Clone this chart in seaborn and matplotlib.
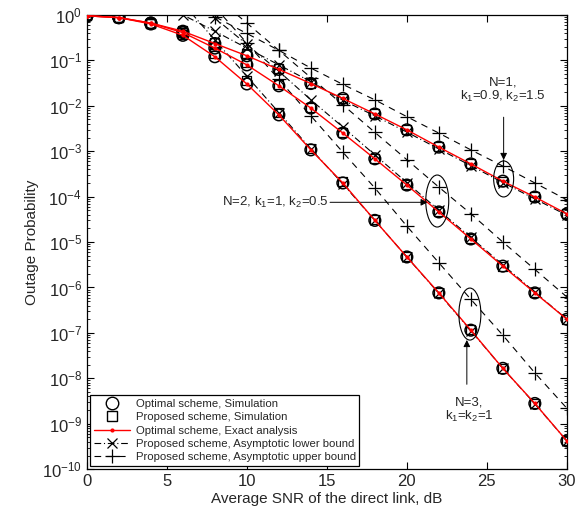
import numpy as np
import pandas as pd
import matplotlib
matplotlib.use("Agg")
import matplotlib.pyplot as plt
import seaborn as sns
from matplotlib.lines import Line2D
from matplotlib.patches import Ellipse
from matplotlib.transforms import ScaledTranslation
from matplotlib.ticker import LogLocator, NullFormatter, FixedLocator

# ---------------- data ----------------
snr = [0, 2, 4, 6, 8, 10, 12, 14, 16, 18, 20, 22, 24, 26, 28, 30]

exact_n1 = [0.955, 0.871, 0.661, 0.437, 0.234, 0.126, 0.0631, 0.0309, 0.0145,
            6.6e-3, 2.95e-3, 1.23e-3, 5.25e-4, 2.19e-4, 9.8e-5, 4.17e-5]
exact_n2 = [0.955, 0.871, 0.661, 0.407, 0.186, 0.0794, 0.0275, 8.9e-3, 2.5e-3,
            6.8e-4, 1.8e-4, 4.6e-5, 1.17e-5, 2.95e-6, 7.6e-7, 2.0e-7]
exact_n3 = [0.955, 0.871, 0.631, 0.355, 0.120, 0.0302, 6.3e-3, 1.07e-3, 2.0e-4,
            3.0e-5, 4.7e-6, 7.6e-7, 1.15e-7, 1.66e-8, 2.8e-9, 4.2e-10]

opt_sim_n1 = [0.955, 0.871, 0.661, 0.437, 0.234, 0.126, 0.0631, 0.0309, 0.0145,
              6.6e-3, 2.95e-3, 1.23e-3, 5.25e-4, 2.19e-4, 9.8e-5, 4.17e-5]
opt_sim_n2 = [0.955, 0.871, 0.661, 0.407, 0.186, 0.0794, 0.0275, 8.9e-3, 2.5e-3,
              6.8e-4, 1.8e-4, 4.6e-5, 1.17e-5, 2.95e-6, 7.6e-7, 2.0e-7]
opt_sim_n3 = [0.955, 0.871, 0.631, 0.355, 0.120, 0.0302, 6.3e-3, 1.07e-3, 2.0e-4,
              3.0e-5, 4.7e-6, 7.6e-7, 1.15e-7, 1.66e-8, 2.8e-9, 4.2e-10]

prop_sim_n1 = [0.955, 0.871, 0.661, 0.45, 0.25, 0.14, 0.066, 0.0315, 0.0147,
               6.7e-3, 2.97e-3, 1.24e-3, 5.3e-4, 2.2e-4, 9.9e-5, 4.2e-5]
prop_sim_n2 = [0.955, 0.871, 0.661, 0.42, 0.20, 0.088, 0.030, 9.3e-3, 2.6e-3,
               6.9e-4, 1.82e-4, 4.65e-5, 1.18e-5, 2.97e-6, 7.7e-7, 2.0e-7]
prop_sim_n3 = [0.955, 0.871, 0.65, 0.37, 0.14, 0.036, 7.0e-3, 1.15e-3, 2.1e-4,
               3.1e-5, 4.8e-6, 7.7e-7, 1.16e-7, 1.67e-8, 2.8e-9, 4.2e-10]

snr_low_n1 = [4, 6, 8, 10, 12, 14, 16, 18, 20, 22, 24, 26, 28, 30]
low_n1 = [2.3, 1.0, 0.437, 0.186, 0.0794, 0.0339, 0.0132, 6.0e-3, 2.63e-3,
          1.12e-3, 4.8e-4, 2.04e-4, 8.9e-5, 3.9e-5]
snr_low_n2 = [6, 8, 10, 12, 14, 16, 18, 20, 22, 24, 26, 28, 30]
low_n2 = [3.5, 0.85, 0.224, 0.0575, 0.0135, 3.4e-3, 8.3e-4, 2.04e-4, 5.0e-5,
          1.26e-5, 3.16e-6, 7.9e-7, 2.0e-7]
snr_low_n3 = [6, 8, 10, 12, 14, 16, 18, 20, 22, 24, 26, 28, 30]
low_n3 = [1.8, 0.28, 0.0447, 7.1e-3, 1.12e-3, 1.9e-4, 3.0e-5, 4.7e-6, 7.4e-7,
          1.12e-7, 1.66e-8, 2.75e-9, 4.2e-10]

snr_up_n1 = [6, 8, 10, 12, 14, 16, 18, 20, 22, 24, 26, 28, 30]
up_n1 = [2.1, 0.91, 0.39, 0.166, 0.0676, 0.0295, 0.0135, 5.75e-3, 2.5e-3,
         1.07e-3, 4.7e-4, 2.0e-4, 8.5e-5]
snr_up_n2 = [8, 10, 12, 14, 16, 18, 20, 22, 24, 26, 28, 30]
up_n2 = [2.6, 0.66, 0.166, 0.0417, 0.0105, 2.6e-3, 6.5e-4, 1.62e-4, 4.2e-5,
         1.0e-5, 2.5e-6, 6.2e-7]
snr_up_n3 = [8, 10, 12, 14, 16, 18, 20, 22, 24, 26, 28, 30]
up_n3 = [1.5, 0.24, 0.038, 6.0e-3, 9.5e-4, 1.55e-4, 2.24e-5, 3.5e-6, 5.5e-7,
         8.9e-8, 1.32e-8, 2.2e-9]

legend_labels = ["Optimal scheme, Simulation",
                 "Proposed scheme, Simulation",
                 "Optimal scheme, Exact analysis",
                 "Proposed scheme, Asymptotic lower bound",
                 "Proposed scheme, Asymptotic upper bound"]
x_ticks = [0, 5, 10, 15, 20, 25, 30]

# ---------------- style ----------------
sns.set_theme(style="ticks")
plt.rcParams["font.family"] = ["Liberation Sans", "DejaVu Sans"]
plt.rcParams["mathtext.fontset"] = "custom"
plt.rcParams["mathtext.rm"] = "Liberation Sans"
plt.rcParams["mathtext.it"] = "Liberation Sans"
plt.rcParams["xtick.direction"] = "in"
plt.rcParams["ytick.direction"] = "in"

fig = plt.figure(figsize=(5.79, 5.32), dpi=100)
ax = fig.add_axes([0.150, 0.118, 0.829, 0.854])

def frame(x, y):
    return pd.DataFrame({"x": x, "y": y})

DASHDOT = (0, (6, 2.5, 1, 2.5))
DASHED = (0, (6, 5))

# simulation markers
for ys in (opt_sim_n1, opt_sim_n2, opt_sim_n3):
    sns.scatterplot(data=frame(snr, ys), x="x", y="y", ax=ax, marker="o", s=70,
                    facecolor="none", edgecolor="black", linewidth=1.1, zorder=3, legend=False)
for ys in (prop_sim_n1, prop_sim_n2, prop_sim_n3):
    sns.scatterplot(data=frame(snr, ys), x="x", y="y", ax=ax, marker="s", s=42,
                    facecolor="none", edgecolor="black", linewidth=0.9, zorder=3, legend=False)

# bounds
for xs, ys in ((snr_low_n1, low_n1), (snr_low_n2, low_n2), (snr_low_n3, low_n3)):
    sns.lineplot(data=frame(xs, ys), x="x", y="y", ax=ax, color="black", lw=0.8,
                 linestyle=DASHDOT, marker="x", markersize=7, markeredgecolor="black",
                 markeredgewidth=0.9, sort=False, estimator=None, zorder=4)
for xs, ys in ((snr_up_n1, up_n1), (snr_up_n2, up_n2), (snr_up_n3, up_n3)):
    sns.lineplot(data=frame(xs, ys), x="x", y="y", ax=ax, color="black", lw=0.8,
                 linestyle=DASHED, marker="+", markersize=10.5, markeredgecolor="black",
                 markeredgewidth=0.9, sort=False, estimator=None, zorder=4)

# exact analysis
for ys in (exact_n1, exact_n2, exact_n3):
    sns.lineplot(data=frame(snr, ys), x="x", y="y", ax=ax, color="red", lw=1.0,
                 marker="o", markersize=3, markeredgewidth=0, markerfacecolor="red",
                 sort=False, estimator=None, zorder=5)

ax.set_yscale("log")
ax.set_xlim(0, 30)
ax.set_ylim(1e-10, 1)
ax.xaxis.set_major_locator(FixedLocator(x_ticks))
ax.yaxis.set_major_locator(LogLocator(base=10, numticks=20))
ax.yaxis.set_minor_locator(LogLocator(base=10, subs=np.arange(2, 10), numticks=20))
ax.yaxis.set_minor_formatter(NullFormatter())
ax.tick_params(which="both", top=True, right=True, labelsize=12, color="black")
ax.tick_params(which="major", length=5, width=0.8)
ax.tick_params(which="minor", length=2.5, width=0.6)
for sp in ax.spines.values():
    sp.set_color("black")
    sp.set_linewidth(0.9)
ax.set_xlabel("Average SNR of the direct link, dB", fontsize=11, labelpad=2)
ax.set_ylabel("Outage Probability", fontsize=11, labelpad=2)

# annotations
def ellipse(xc, yc, w_px, h_px):
    e = Ellipse((0, 0), w_px / 100, h_px / 100, fill=False, ec="black", lw=0.8,
                transform=fig.dpi_scale_trans + ScaledTranslation(xc, yc, ax.transData),
                zorder=6)
    ax.add_patch(e)

ellipse(26.05, 2.45e-4, 20, 36)
ellipse(21.9, 8.0e-5, 23, 52)
ellipse(23.94, 2.6e-7, 22, 52)

arrow = dict(arrowstyle="-|>", color="black", lw=0.7, mutation_scale=10,
             shrinkA=0, shrinkB=0)
ax.annotate("", xy=(26.05, 6.4e-4), xytext=(26.05, 5.6e-3), arrowprops=arrow)
ax.text(26.0, 0.022, "N=1,\nk$_1$=0.9, k$_2$=1.5", ha="center", va="center",
        fontsize=9.5, linespacing=1.0)
ax.annotate("", xy=(21.3, 7.5e-5), xytext=(15.2, 7.5e-5), arrowprops=arrow)
ax.text(15.1, 7.5e-5, "N=2, k$_1$=1, k$_2$=0.5", ha="right", va="center", fontsize=9.5)
ax.annotate("", xy=(23.75, 7.0e-8), xytext=(23.75, 7.4e-9), arrowprops=arrow)
ax.text(23.9, 4.0e-9, "N=3,\nk$_1$=k$_2$=1", ha="center", va="top", fontsize=9.5,
        linespacing=1.0)

handles = [
    Line2D([], [], linestyle="none", marker="o", markersize=9, mfc="none", mec="black", mew=1.0),
    Line2D([], [], linestyle="none", marker="s", markersize=7, mfc="none", mec="black", mew=1.0),
    Line2D([], [], color="red", lw=1.0, marker="o", markersize=3, mew=0, mfc="red"),
    Line2D([], [], color="black", lw=0.8, linestyle=DASHDOT, marker="x",
           markersize=7, mew=0.9, mec="black"),
    Line2D([], [], color="black", lw=0.8, linestyle=DASHED, marker="+",
           markersize=10.5, mew=0.9, mec="black"),
]
leg = ax.legend(handles, legend_labels, loc="lower left", fontsize=8.2,
                frameon=True, fancybox=False, edgecolor="black", framealpha=1,
                borderaxespad=0.3, labelspacing=0.3, handlelength=3.2,
                handletextpad=0.5, borderpad=0.3)
leg.get_frame().set_linewidth(0.9)
leg.set_zorder(10)

fig.savefig("out.png", dpi=100)
